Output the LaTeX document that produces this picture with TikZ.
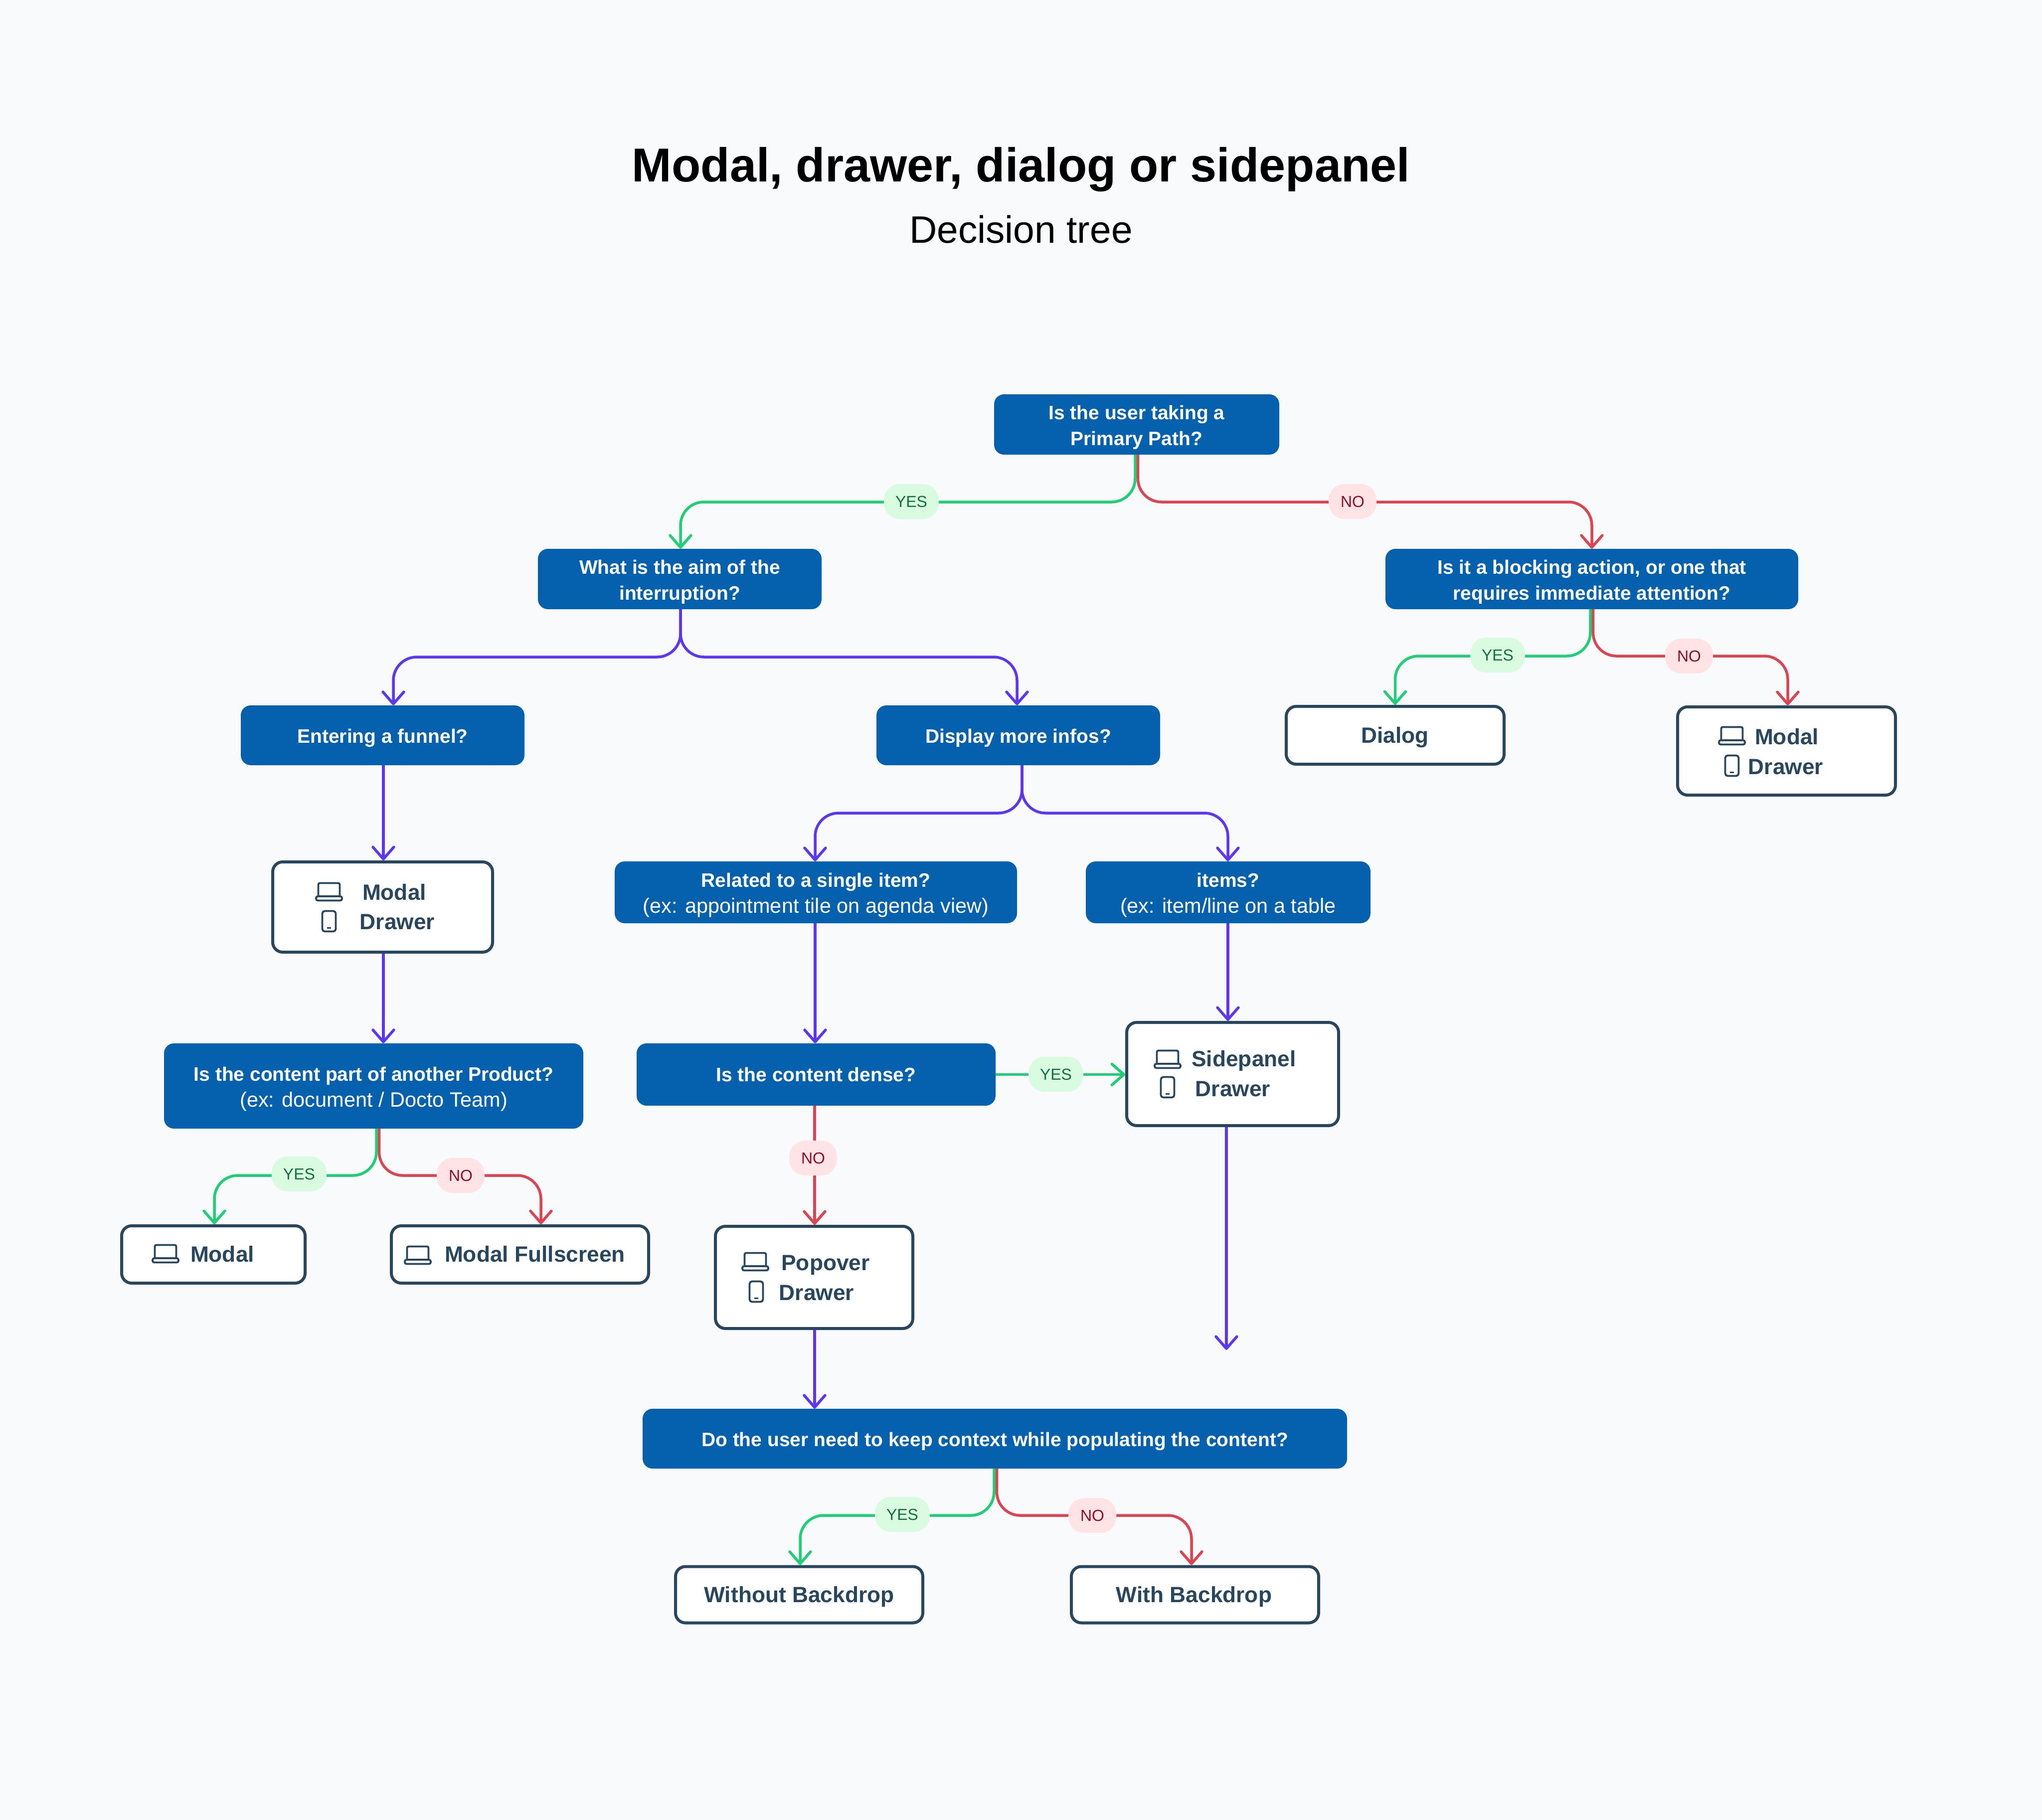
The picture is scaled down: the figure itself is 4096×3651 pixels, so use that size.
\documentclass[tikz,border=0pt]{standalone}
\usepackage{fontspec}
\setmainfont{Liberation Sans}
\usetikzlibrary{arrows.meta}
\definecolor{bgc}{HTML}{F9FAFC}
\definecolor{qblue}{HTML}{0561AE}
\definecolor{dark}{HTML}{29465F}
\definecolor{gline}{HTML}{20CF75}
\definecolor{rline}{HTML}{DB4551}
\definecolor{pline}{HTML}{5C36F2}
\definecolor{gfill}{HTML}{D9FBDF}
\definecolor{gtext}{HTML}{12703E}
\definecolor{rfill}{HTML}{FFE3E5}
\definecolor{rtext}{HTML}{8F1024}
\newcommand{\exline}[1]{{\mdseries\fontsize{41.5}{52}\selectfont #1}}
\tikzset{
  qbox/.style={fill=qblue,rounded corners=20pt,inner sep=0pt,align=center,text=white,
    font=\fontsize{39}{52}\selectfont\bfseries},
  oneline/.style={execute at begin node={\rule{0pt}{39pt}}},
  twoline/.style={execute at begin node={\rule{0pt}{92pt}}},
  abox/.style={draw=dark,line width=6pt,fill=white,rounded corners=20pt,inner sep=0pt},
  alabel/.style={anchor=base,text=dark,inner sep=0pt,font=\fontsize{44.3}{52}\selectfont\bfseries},
  conn/.style={line width=5.5pt,rounded corners=47pt,line join=round,
    -{Straight Barb[length=24pt,width=42pt,line width=5.5pt,round]}},
  yesline/.style={conn,draw=gline},
  noline/.style={conn,draw=rline},
  flowline/.style={conn,draw=pline},
  yeslab/.style={fill=gfill,text=gtext,rounded corners=32pt,minimum width=110pt,minimum height=70pt,
    inner sep=0pt,font=\fontsize{32}{36}\selectfont},
  nolab/.style={fill=rfill,text=rtext,rounded corners=32pt,minimum width=96pt,minimum height=70pt,
    inner sep=0pt,font=\fontsize{32}{36}\selectfont},
  laptop/.pic={
    \draw[dark,line width=3.8pt,rounded corners=3pt] (-21.5,9) -- (-21.5,-17.5) -- (21.5,-17.5) -- (21.5,9);
    \draw[dark,line width=3.8pt,rounded corners=3.5pt] (-26,9) -- (26,9) -- (26,17.5) -- (-26,17.5) -- cycle;
  },
  phone/.pic={
    \draw[dark,line width=3.8pt,rounded corners=5pt] (-13.5,-20.5) rectangle (13.5,20.5);
    \draw[dark,line width=3pt] (-4,13) -- (4,13);
  },
}
\begin{document}
\begin{tikzpicture}[x=1pt,y=-1pt]
\useasboundingbox (0,0) rectangle (4096,3651);
\fill[bgc] (0,0) rectangle (4096,3651);

\node[inner sep=0pt,font=\fontsize{95.5}{110}\selectfont\bfseries,text=black] (title) at (2048,340) {Modal, drawer, dialog or sidepanel};
\node[inner sep=0pt,font=\fontsize{76.7}{90}\selectfont,text=black] (subtitle) at (2048,460) {Decision tree};

% questions
\node[qbox,twoline,minimum width=572pt,minimum height=121pt] (q1) at (2280,851.5) {Is the user taking a\\Primary Path?};
\node[qbox,twoline,minimum width=569pt,minimum height=121pt] (q2) at (1363.5,1161.5) {What is the aim of the\\interruption?};
\node[qbox,twoline,minimum width=828pt,minimum height=121pt] (q3) at (3193,1161.5) {Is it a blocking action, or one that\\requires immediate attention?};
\node[qbox,oneline,minimum width=569pt,minimum height=120pt] (funnel) at (767.5,1475) {Entering a funnel?};
\node[qbox,oneline,minimum width=569pt,minimum height=120pt] (display) at (2042.5,1475) {Display more infos?};
\node[qbox,twoline,minimum width=807pt,minimum height=124pt] (single) at (1636.5,1790) {Related to a single item?\\\exline{(ex: appointment tile on agenda view)}};
\node[qbox,twoline,minimum width=571pt,minimum height=124pt] (items) at (2463.5,1790) {items?\\\exline{(ex: item/line on a table}};
\node[qbox,twoline,minimum width=841pt,minimum height=171pt] (product) at (749.5,2178.5) {Is the content part of another Product?\\\exline{(ex: document / Docto Team)}};
\node[qbox,minimum width=720pt,minimum height=125pt] (dense) at (1637,2155.5) {Is the content dense?};
\node[qbox,oneline,minimum width=1413pt,minimum height=120pt] (context) at (1995.5,2886) {Do the user need to keep context while populating the content?};

% answers
\node[abox,minimum width=437pt,minimum height=116pt] (dialog) at (2798.5,1475) {};
\node[abox,minimum width=437pt,minimum height=177pt] (md2) at (3583.5,1506.5) {};
\node[abox,minimum width=441pt,minimum height=181pt] (md1) at (767.5,1819.5) {};
\node[abox,minimum width=425pt,minimum height=207pt] (side) at (2472.5,2154.5) {};
\node[abox,minimum width=368pt,minimum height=115pt] (modal) at (428,2516.5) {};
\node[abox,minimum width=516pt,minimum height=115pt] (full) at (1043,2516.5) {};
\node[abox,minimum width=396pt,minimum height=205pt] (pop) at (1633,2562.5) {};
\node[abox,minimum width=496pt,minimum height=113pt] (without) at (1603,3199) {};
\node[abox,minimum width=496pt,minimum height=113pt] (with) at (2397,3199) {};

% answer texts
\node[alabel] (t1) at (2798,1490) {Dialog};
\node[alabel] (t2) at (3584,1493) {Modal};
\node[alabel] (t3) at (3582,1553) {Drawer};
\node[alabel] (t4) at (791,1805) {Modal};
\node[alabel] (t5) at (797,1864) {Drawer};
\node[alabel] (t6) at (2495,2139) {Sidepanel};
\node[alabel] (t7) at (2473,2199) {Drawer};
\node[alabel] (t8) at (446,2531) {Modal};
\node[alabel] (t9) at (1073,2531) {Modal Fullscreen};
\node[alabel] (t10) at (1656,2548) {Popover};
\node[alabel] (t11) at (1638,2608) {Drawer};
\node[alabel] (t12) at (1603,3214) {Without Backdrop};
\node[alabel] (t13) at (2395,3214) {With Backdrop};

% icons
\pic at (3474,1476) {laptop};
\pic at (3474,1536) {phone};
\pic at (660,1789) {laptop};
\pic at (660,1848) {phone};
\pic at (2342,2125) {laptop};
\pic at (2342,2181) {phone};
\pic at (332,2515) {laptop};
\pic at (838,2518) {laptop};
\pic at (1515,2531) {laptop};
\pic at (1517,2591) {phone};

% rails: heights of the horizontal runs
\coordinate (r1) at (2048,1007);
\coordinate (r2) at (2048,1318);
\coordinate (r3) at (2048,1316);
\coordinate (r4) at (2048,1631);
\coordinate (r5) at (2048,2358);
\coordinate (r6) at (2048,3040);
\coordinate (loose) at (2460,2708);

% arrow targets
\coordinate (tq2) at ([xshift=1.5pt]q2.north);
\coordinate (tq3) at (q3.north);
\coordinate (tfun) at ([xshift=21.5pt]funnel.north);
\coordinate (tdis) at ([xshift=-2.5pt]display.north);
\coordinate (tdia) at (dialog.north);
\coordinate (tmd2) at ([xshift=2.5pt]md2.north);
\coordinate (tsin) at ([xshift=-1.5pt]single.north);
\coordinate (tite) at ([xshift=-0.5pt]items.north);
\coordinate (tmod) at ([xshift=2pt]modal.north);
\coordinate (tful) at ([xshift=42pt]full.north);
\coordinate (twot) at ([xshift=2pt]without.north);
\coordinate (twit) at ([xshift=-7pt]with.north);

% connectors
\draw[yesline] ([xshift=-3pt]q1.south) |- (tq2 |- r1) -- (tq2);
\draw[noline]  ([xshift=2.5pt]q1.south) |- (tq3 |- r1) -- (tq3);
\draw[flowline] ([xshift=1.5pt]q2.south) |- (tfun |- r2) -- (tfun);
\draw[flowline] ([xshift=1.5pt]q2.south) |- (tdis |- r2) -- (tdis);
\draw[yesline] ([xshift=-3pt]q3.south) |- (tdia |- r3) -- (tdia);
\draw[noline]  ([xshift=2.5pt]q3.south) |- (tmd2 |- r3) -- (tmd2);
\draw[flowline] ([xshift=1.5pt]funnel.south) -- ([xshift=1.5pt]funnel.south |- md1.north);
\draw[flowline] ([xshift=7.5pt]display.south) |- (tsin |- r4) -- (tsin);
\draw[flowline] ([xshift=7.5pt]display.south) |- (tite |- r4) -- (tite);
\draw[flowline] ([xshift=1.5pt]md1.south) -- ([xshift=1.5pt]md1.south |- product.north);
\draw[flowline] ([xshift=-1.5pt]single.south) -- ([xshift=-1.5pt]single.south |- dense.north);
\draw[flowline] ([xshift=-0.5pt]items.south) -- ([xshift=-0.5pt]items.south |- side.north);
\draw[yesline] (dense.east) -- (dense.east -| side.west);
\draw[noline] ([xshift=-3pt]dense.south) -- ([xshift=-3pt]dense.south |- pop.north);
\draw[flowline] ([xshift=-12.5pt]side.south) -- (loose);
\draw[flowline] ([xshift=1pt]pop.south) -- ([xshift=1pt]pop.south |- context.north);
\draw[yesline] ([xshift=5.5pt]product.south) |- (tmod |- r5) -- (tmod);
\draw[noline]  ([xshift=11pt]product.south) |- (tful |- r5) -- (tful);
\draw[yesline] ([xshift=-1.5pt]context.south) |- (twot |- r6) -- (twot);
\draw[noline]  ([xshift=4pt]context.south) |- (twit |- r6) -- (twit);

% labels on connectors
\node[yeslab] (y1) at (1828,1006) {YES};
\node[nolab] (n1) at (2713,1006) {NO};
\node[yeslab] (y2) at (3004,1314) {YES};
\node[nolab] (n2) at (3388,1316) {NO};
\node[yeslab] (y3) at (600,2355) {YES};
\node[nolab] (n3) at (924,2358) {NO};
\node[yeslab] (y4) at (2118,2155) {YES};
\node[nolab] (n4) at (1631,2323) {NO};
\node[yeslab] (y5) at (1810,3038) {YES};
\node[nolab] (n5) at (2191,3040) {NO};
\end{tikzpicture}
\end{document}
